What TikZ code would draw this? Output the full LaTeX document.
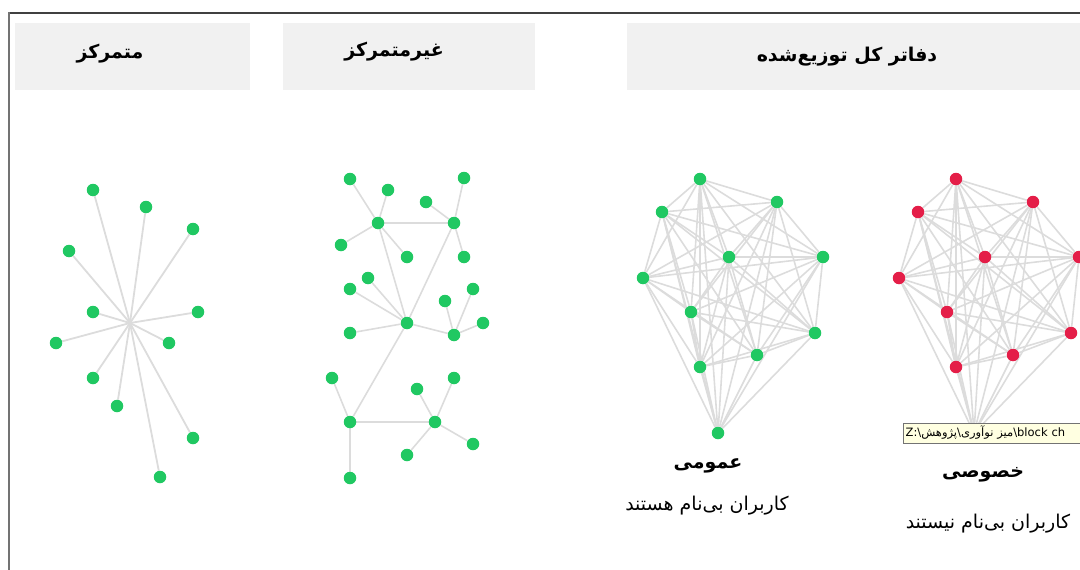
\documentclass[tikz,border=0pt]{standalone}
\usepackage{fontspec}
\usepackage{xcolor}
\newfontfamily\fafont[Script=Arabic]{DejaVu Sans}
\TeXXeTstate=1
\usetikzlibrary{backgrounds}

\definecolor{dotgreen}{RGB}{32,200,98}
\definecolor{dotred}{RGB}{228,30,72}
\definecolor{linkgray}{RGB}{220,220,220}
\definecolor{headgray}{RGB}{241,241,241}
\definecolor{tipyellow}{RGB}{255,255,225}

\tikzset{
  gdot/.style={circle, fill=dotgreen, inner sep=0pt, minimum size=12.5pt},
  rdot/.style={gdot, fill=dotred},
  link/.style={draw=linkgray, line width=1.8pt},
  headtext/.style={font=\fafont\bfseries\fontsize{19}{22}\selectfont},
  subtext/.style={font=\fafont\fontsize{19}{22}\selectfont},
}

\begin{document}
\begin{tikzpicture}[x=1pt, y=-1pt]
  \useasboundingbox (0,0) rectangle (1080,570);
  \begin{scope}
    \clip (0,0) rectangle (1080,570);
    %frame
    \draw[line width=2pt, color=black!75] (8,13) -- (1082,13);
    \draw[line width=1.3pt, color=black!55] (9,12) -- (9,572);

    %header bars
    \fill[headgray] (15,23) rectangle (250,90);
    \fill[headgray] (283,23) rectangle (535,90);
    \fill[headgray] (627,23) rectangle (1082,90);
    \node[headtext] (tcen) at (110,54) {\beginR متمرکز\endR};
    \node[headtext] (tdec) at (394,52) {\beginR غیرمتمرکز\endR};
    \node[headtext] (tdlt) at (847,57) {\beginR دفاتر کل توزیع‌شده\endR};

%centralized
    \coordinate (hub) at (130,323);
    \foreach \n/\x/\y in {s1/93/190, s2/146/207, s3/193/229, s4/69/251,
        s5/93/312, s6/198/312, s7/56/343, s8/169/343,
        s9/93/378, s10/117/406, s11/193/438, s12/160/477} {
      \node[gdot] (\n) at (\x,\y) {};
      \begin{scope}[on background layer]
        \draw[link] (hub) -- (\n);
      \end{scope}
    }

%decentralized
    \foreach \n/\x/\y in {a1/350/179, a2/388/190, h1/378/223, a3/341/245, a4/407/257,
        b1/426/202, b2/464/178, h2/454/223, b3/464/257,
        c1/368/278, c2/350/289, hc/407/323, c3/350/333,
        d1/445/301, d2/473/289, hd/454/335, d3/483/323,
        e1/332/378, he/350/422, e2/350/478,
        f1/417/389, f2/454/378, hf/435/422, f3/407/455, f4/473/444}
      \node[gdot] (\n) at (\x,\y) {};
    \begin{scope}[on background layer]
      \foreach \a/\b in {h1/a1, h1/a2, h1/a3, h1/a4, h1/h2, h2/b1, h2/b2, h2/b3,
          h1/hc, h2/hc, hc/c1, hc/c2, hc/c3, hc/hd, hd/d1, hd/d2, hd/d3,
          hc/he, he/e1, he/e2, he/hf, hf/f1, hf/f2, hf/f3, hf/f4}
        \draw[link, line width=1.6pt] (\a) -- (\b);
    \end{scope}

%public and private ledgers
    \foreach \i/\x/\y in {1/700/179, 2/777/202, 3/662/212, 4/729/257, 5/823/257,
        6/643/278, 7/691/312, 8/815/333, 9/757/355, 10/700/367, 11/718/433} {
      \node[gdot] (p\i) at (\x,\y) {};
      \node[rdot] (r\i) at (\x+256,\y) {};
    }
    \begin{scope}[on background layer]
      \foreach \i in {1,...,10} {
        \pgfmathtruncatemacro\k{\i+1}
        \foreach \j in {\k,...,11} {
          \draw[link, line width=1.6pt] (p\i) -- (p\j);
          \draw[link, line width=1.6pt] (r\i) -- (r\j);
        }
      }
    \end{scope}

    \node[headtext] (tpub) at (708,466) {\beginR عمومی\endR};
    \node[subtext] (spub) at (707,506) {\beginR کاربران بی‌نام هستند\endR};
    \node[headtext] (tpriv) at (983,475) {\beginR خصوصی\endR};
    \node[subtext] (spriv) at (988,524) {\beginR کاربران بی‌نام نیستند\endR};

    %tooltip
    \node[draw=black!55, fill=tipyellow, anchor=west, minimum height=19pt,
      minimum width=185pt, inner xsep=2pt, text width=180pt,
      font=\fafont\fontsize{11.5}{13}\selectfont] (tip) at (903,433)
      {Z:\textbackslash\beginR پژوهش\endR\textbackslash\beginR میز نوآوری\endR\textbackslash block ch};
  \end{scope}
\end{tikzpicture}
\end{document}
